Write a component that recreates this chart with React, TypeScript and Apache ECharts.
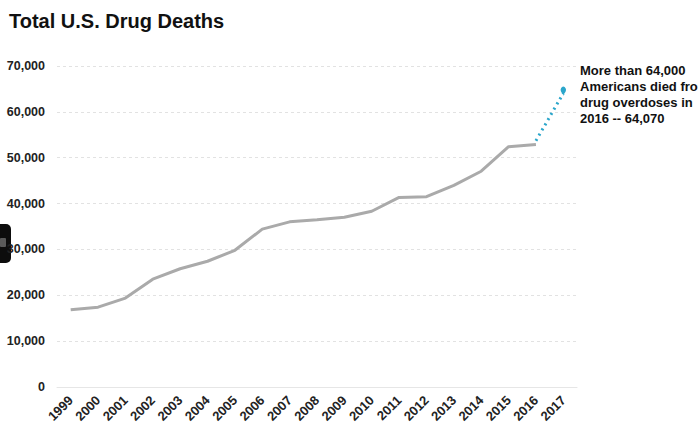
import React, { useEffect, useRef } from "react";
import * as echarts from "echarts";

const years = ["1999","2000","2001","2002","2003","2004","2005","2006","2007","2008","2009","2010","2011","2012","2013","2014","2015","2016","2017"];
const deaths = [16849, 17415, 19394, 23518, 25785, 27424, 29813, 34425, 36010, 36450, 37004, 38329, 41340, 41502, 43982, 47055, 52404, 52898];
const latest = 64070;
const yTicks = [0, 10000, 20000, 30000, 40000, 50000, 60000, 70000];
const noteLines = ["More than 64,000", "Americans died from", "drug overdoses in", "2016 -- 64,070"];

export default function App() {
  const ref = useRef<HTMLDivElement>(null);
  useEffect(() => {
    if (!ref.current) return;
    const chart = echarts.init(ref.current, null, { renderer: "svg" });
    const grayData = years.map((_, i) => (i < deaths.length ? deaths[i] : null));
    const blueData = years.map((_, i) =>
      i === deaths.length - 1 ? deaths[i] + 800 : i === deaths.length ? latest : null
    );
    const font = "'Liberation Sans', Arial, sans-serif";
    chart.setOption({
      animation: false,
      backgroundColor: "#ffffff",
      textStyle: { fontFamily: font },
      title: {
        text: "Total U.S. Drug Deaths",
        left: 4,
        top: 6,
        textStyle: { fontFamily: font, fontSize: 20, fontWeight: "bold", color: "#111" },
      },
      grid: { left: 57, right: 121, top: 66, bottom: 51, containLabel: false },
      xAxis: {
        type: "category",
        data: years,
        boundaryGap: true,
        axisLine: { show: true, lineStyle: { color: "#e6e6e6", width: 1 } },
        axisTick: { show: false },
        axisLabel: {
          rotate: 45,
          interval: 0,
          fontFamily: font,
          fontSize: 13,
          fontWeight: "bold",
          color: "#222",
          margin: 11,
        },
      },
      yAxis: {
        type: "value",
        min: 0,
        max: yTicks[yTicks.length - 1],
        interval: 10000,
        axisLine: { show: false },
        axisTick: { show: false },
        splitLine: { lineStyle: { color: "#e2e2e2", type: [3, 3], width: 1 } },
        axisLabel: {
          fontFamily: font,
          fontSize: 12.5,
          fontWeight: "bold",
          color: "#222",
          margin: 12,
          formatter: (v: number) => v.toLocaleString("en-US"),
        },
      },
      series: [
        {
          type: "line",
          data: grayData,
          symbol: "none",
          lineStyle: { color: "#aaaaaa", width: 3 },
        },
        {
          type: "line",
          data: blueData,
          symbol: (_v: any, p: any) => (p.dataIndex === deaths.length ? "pin" : "none"),
          symbolSize: [9, 11],
          symbolOffset: [0, 3],
          itemStyle: { color: "#2ba6cb" },
          lineStyle: { color: "#2ba6cb", width: 3, type: [2, 4] },
        },
      ],
      graphic: [
        {
          type: "text",
          left: 580,
          top: 62,
          style: {
            text: noteLines.join("\n"),
            font: `bold 13px ${font}`,
            lineHeight: 16,
            fill: "#111",
          },
        },
        {
          type: "rect",
          shape: { x: -10, y: 224, width: 21, height: 39, r: 5 },
          style: { fill: "#0d0d0d" },
        },
        {
          type: "rect",
          shape: { x: 0, y: 238, width: 6, height: 9, r: 1 },
          style: { fill: "#5a5a5a" },
        },
      ],
    });
    return () => chart.dispose();
  }, []);
  return <div ref={ref} style={{ width: 698, height: 438, position: "absolute", left: 0, top: 0 }} />;
}
